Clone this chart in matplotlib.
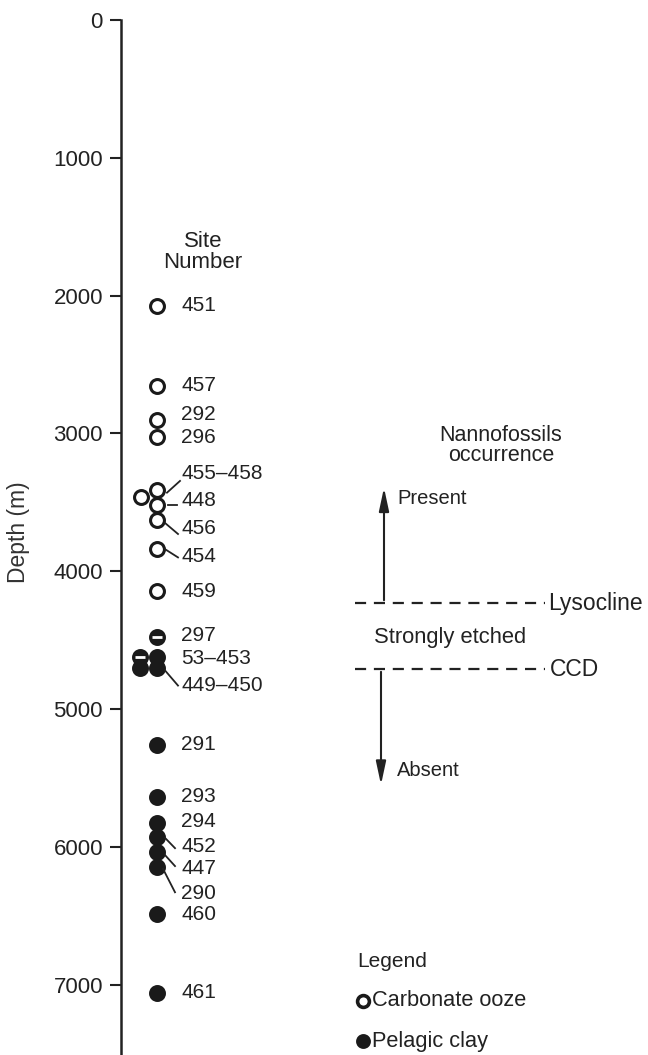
import matplotlib
matplotlib.use("Agg")
import matplotlib.pyplot as plt

plt.rcParams['font.family'] = ['Liberation Sans', 'DejaVu Sans']

# ---- data ----
ooze_depth = [2075, 2656, 2903, 3026, 3411, 3462, 3520, 3628, 3839, 4144]
ooze_x     = [157, 157, 157, 157, 157, 141, 157, 157, 157, 157]
half_depth = [4478, 4623]
half_x     = [157, 140]
clay_depth = [4623, 4702, 4702, 5261, 5638, 5827, 5929, 6038, 6147, 6488, 7061]
clay_x     = [157, 140, 157, 157, 157, 157, 157, 157, 157, 157, 157]

site_labels = ["451", "457", "292", "296", "455\u2013458", "448", "456", "454", "459",
               "297", "53\u2013453", "449\u2013450", "291", "293", "294", "452", "447",
               "290", "460", "461"]
label_depth = [2075, 2656, 2860, 3030, 3290, 3490, 3690, 3890, 4144,
               4470, 4630, 4830, 5261, 5638, 5820, 6000, 6160, 6340, 6490, 7061]
# leader lines (from point to label) for some labels
leaders = {
    "455\u2013458": ((167, 3430), (180, 3345)),
    "448": ((168, 3520), (177, 3520)),
    "456": ((165, 3650), (178, 3730)),
    "454": ((165, 3840), (178, 3900)),
    "449\u2013450": ((165, 4720), (178, 4830)),
    "452": ((165, 5935), (175, 6010)),
    "447": ((165, 6060), (175, 6140)),
    "290": ((163, 6160), (175, 6330)),
}

yticks = [0, 1000, 2000, 3000, 4000, 5000, 6000, 7000]
lysocline = 4231
ccd = 4710

W, H = 648, 1055
fig = plt.figure(figsize=(W / 100, H / 100), dpi=100)
ax = fig.add_axes([121 / W, 0, 1 - 121 / W, 1 - 20 / H])
ax.set_xlim(121, 648)
ax.set_ylim(7511, 0)

for s in ['top', 'right', 'bottom']:
    ax.spines[s].set_visible(False)
ax.spines['left'].set_linewidth(1.8)
ax.spines['left'].set_color('#222222')
ax.set_xticks([])
ax.set_yticks(yticks)
ax.set_yticklabels([str(t) for t in yticks])
ax.tick_params(axis='y', direction='out', length=8, width=1.5, labelsize=16,
               pad=5, colors='#222222')
ax.set_ylabel("Depth (m)", fontsize=16.5, color='#333333', labelpad=10)
ax.yaxis.set_label_coords(-0.172, 0.505)

ms = 10
mew = 2.2
ax.plot(ooze_x, ooze_depth, 'o', ms=ms, mfc='white', mec='#1a1a1a', mew=mew)
ax.plot(half_x, half_depth, 'o', ms=ms, mfc='#1a1a1a', mec='#1a1a1a', mew=mew)
ax.plot(half_x, half_depth, '_', ms=ms * 0.7, mec='white', mew=2)
ax.plot(clay_x, clay_depth, 'o', ms=ms, mfc='#1a1a1a', mec='#1a1a1a', mew=mew)

for lab, d in zip(site_labels, label_depth):
    ax.text(181, d, lab, fontsize=15, va='center', ha='left', color='#222222')
    if lab in leaders:
        (x0, y0), (x1, y1) = leaders[lab]
        ax.plot([x0, x1], [y0, y1], color='#222222', lw=1.3)

ax.text(203, 1684, "Site\nNumber", fontsize=16, ha='center', va='center',
        color='#222222', linespacing=1.05)

# right annotation
ax.text(501, 3085, "Nannofossils\noccurrence", fontsize=15.5, ha='center', va='center',
        color='#222222', linespacing=0.95)
ax.plot([355, 545], [lysocline, lysocline], color='#222222', lw=1.6, ls=(0, (5, 3.5)))
ax.plot([355, 545], [ccd, ccd], color='#222222', lw=1.6, ls=(0, (5, 3.5)))
ax.text(548, lysocline, "Lysocline", fontsize=16.5, va='center', ha='left', color='#222222')
ax.text(550, ccd, "CCD", fontsize=16.5, va='center', ha='left', color='#222222')
ax.text(450, 4480, "Strongly etched", fontsize=15.8, va='center', ha='center', color='#222222')
ax.annotate("", xy=(384, 3374), xytext=(384, lysocline),
            arrowprops=dict(arrowstyle='-|>,head_length=1.4,head_width=0.3',
                            color='#222222', lw=1.5))
ax.annotate("", xy=(381, 5570), xytext=(381, ccd),
            arrowprops=dict(arrowstyle='-|>,head_length=1.4,head_width=0.3',
                            color='#222222', lw=1.5))
ax.text(397, 3470, "Present", fontsize=14.5, va='center', ha='left', color='#222222')
ax.text(397, 5450, "Absent", fontsize=14.5, va='center', ha='left', color='#222222')

# legend
ax.text(357, 6829, "Legend", fontsize=15, va='center', ha='left', color='#222222')
ax.plot([363], [7119], 'o', ms=8.5, mfc='white', mec='#1a1a1a', mew=2.6)
ax.text(372, 7119, "Carbonate ooze", fontsize=15.7, va='center', ha='left', color='#222222')
ax.plot([363], [7410], 'o', ms=8.5, mfc='#1a1a1a', mec='#1a1a1a', mew=2.2)
ax.text(372, 7410, "Pelagic clay", fontsize=15.7, va='center', ha='left', color='#222222')

fig.savefig("out.png", dpi=100)
